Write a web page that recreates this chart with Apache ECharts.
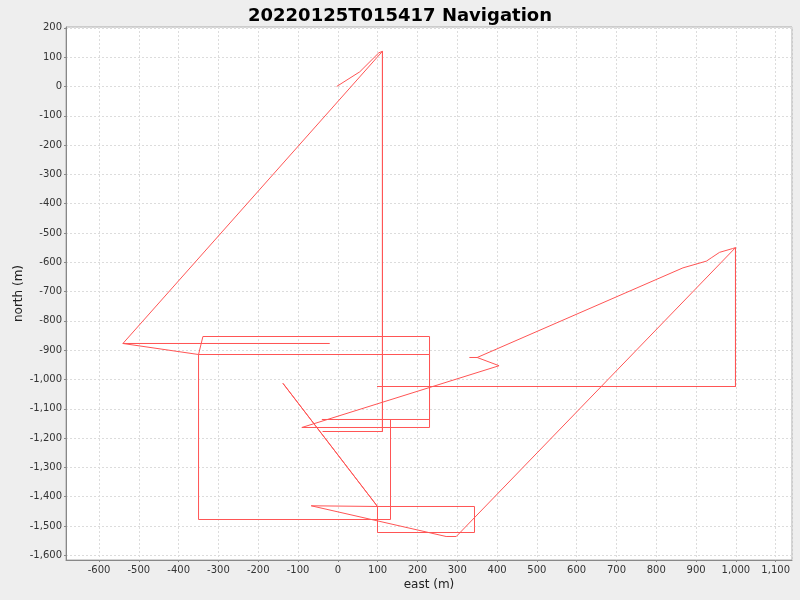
<!DOCTYPE html>
<html><head><meta charset="utf-8">
<script src="https://cdn.jsdelivr.net/npm/echarts@6/dist/echarts.min.js"></script>
<style>html,body{margin:0;padding:0;background:#eeeeee}#c{width:800px;height:600px}</style>
</head><body><div id="c"></div>
<script>
// Navigation track (east, north) in metres, in drawing order
const eastValues = [
  -3, 55, 103, 112, 112, -38, 112, 112, -540, -21, -540, -350, -339, 230.3, 230.3, -350,
  -350, 132.3, 132.3, -40, 230.3, 230.3, 230.3, -90.5, 405, 350, 331, 350, 867, 926, 938, 959,
  992, 999, 999, 99, 999, 999, 297.5, 272, -67, 99.6, -138, 99.6, 343.3, 343.3, 99.6, 99.6
];
const northValues = [
  0, 50, 115, 120, -1177.5, -1177.5, -1177.5, 120, -877.1, -877.1, -877.1, -914.7, -853.3, -853.3, -914.7, -914.7,
  -1477.8, -1477.8, -1136.5, -1136.5, -1136.5, -914.7, -1163.8, -1163.8, -953, -924.9, -924.9, -924.9, -619, -596, -585, -566,
  -553, -550, -1023.9, -1023.9, -1023.9, -550, -1535.8, -1535.8, -1431, -1433.4, -1013, -1433.4, -1433.4, -1522.2, -1522.2, -1433.4
];
const eastRange = [-683, 1141];
const northRange = [-1616, 203];
const titleText = '20220125T015417 Navigation';
const eastName = 'east (m)';
const northName = 'north (m)';

const fmt = v => Math.round(v).toLocaleString('en-US');
const chart = echarts.init(document.getElementById('c'), null, {renderer: 'canvas'});
const axisCommon = {
  type: 'value',
  splitNumber: 18,
  axisLine: {show: true, onZero: false, lineStyle: {color: '#888888', width: 1}},
  axisTick: {show: true, length: 2, lineStyle: {color: '#888888'}},
  splitLine: {show: true, lineStyle: {color: '#dcdcdc', type: [2, 2], width: 1}},
  axisLabel: {color: '#333333', fontFamily: 'DejaVu Sans', fontSize: 10, formatter: fmt,
              showMinLabel: false, showMaxLabel: false},
  nameTextStyle: {color: '#222222', fontFamily: 'DejaVu Sans', fontSize: 12},
  nameLocation: 'middle',
  nameMoveOverlap: false
};
chart.setOption({
  animation: false,
  backgroundColor: '#eeeeee',
  title: {text: titleText, left: 'center', top: 2,
          textStyle: {fontFamily: 'DejaVu Sans', fontWeight: 'bold', fontSize: 18, color: '#000'}},
  grid: {left: 66, right: 8, top: 27, bottom: 40, show: true, backgroundColor: '#ffffff',
         borderColor: '#aaaaaa', borderWidth: 1},
  xAxis: Object.assign({}, axisCommon, {
    min: eastRange[0], max: eastRange[1], name: eastName, nameGap: 19,
    axisLabel: Object.assign({}, axisCommon.axisLabel, {margin: 5})
  }),
  yAxis: Object.assign({}, axisCommon, {
    min: northRange[0], max: northRange[1], name: northName, nameGap: 41,
    axisLabel: Object.assign({}, axisCommon.axisLabel, {margin: 4})
  }),
  series: [{
    type: 'line',
    data: eastValues.map((e, i) => [e, northValues[i]]),
    showSymbol: false, symbol: 'none',
    lineStyle: {color: '#ff5555', width: 1},
    silent: true
  }]
});
</script>
</body></html>
